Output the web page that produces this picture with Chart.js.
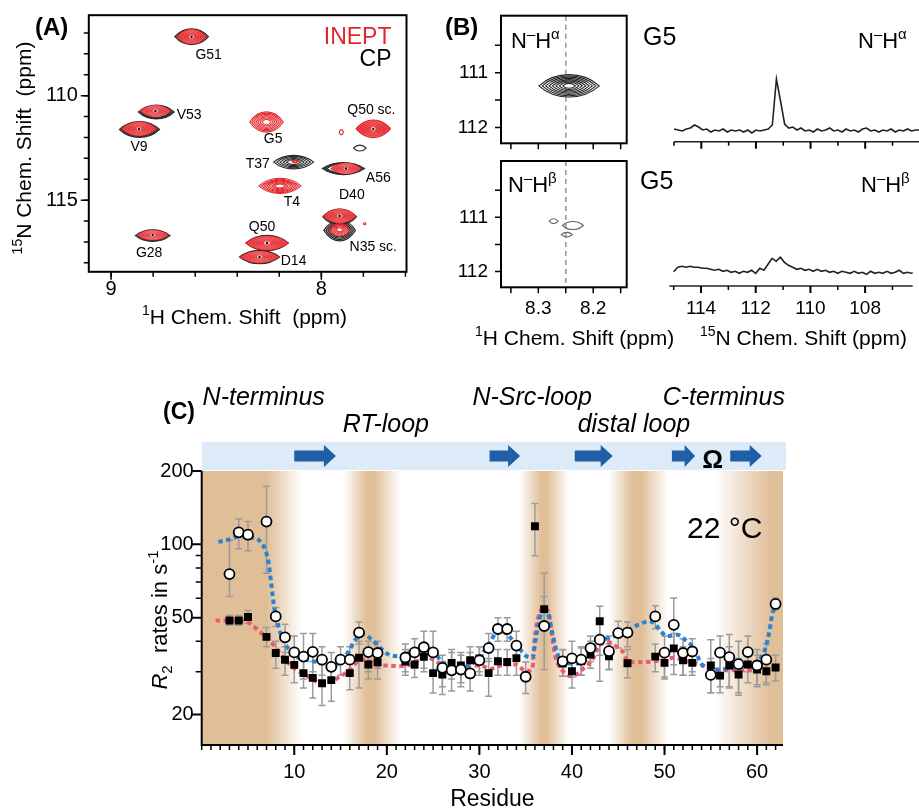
<!DOCTYPE html>
<html>
<head>
<meta charset="utf-8">
<title>SH3 R2 relaxation figure</title>
<script src="https://cdn.jsdelivr.net/npm/chart.js@4.4.1/dist/chart.umd.min.js"></script>
<style>
  html, body { margin: 0; padding: 0; background: #fff; }
  #fig { position: relative; width: 919px; height: 810px; overflow: hidden; background: #fff; }
  #fig canvas { position: absolute; left: 0; top: 0; }
</style>
</head>
<body>
<div id="fig">
  <canvas id="chartC" width="919" height="810"></canvas>
  <canvas id="chartA" width="919" height="810"></canvas>
  <canvas id="chartB1" width="919" height="810"></canvas>
  <canvas id="chartB2" width="919" height="810"></canvas>
  <canvas id="chartB3" width="919" height="810"></canvas>
  <canvas id="chartB4" width="919" height="810"></canvas>
</div>
<script>
// ---------- panel A : 1H-15N spectrum (peak centres in ppm) ----------
const ineptH = [8.617, 8.789, 8.867, 8.261, 7.753, 8.125, 7.883, 8.197, 7.913, 7.913, 8.802, 8.258, 8.294, 7.905, 7.794];
const ineptN = [107.18, 110.73, 111.59, 111.26, 111.59, 113.15, 113.49, 114.32, 115.76, 116.42, 116.67, 117.05, 117.72, 111.75, 116.13];
const ineptWidthH = [0.145, 0.15, 0.17, 0.16, 0.17, 0.03, 0.15, 0.2, 0.16, 0.1, 0.155, 0.21, 0.19, 0.02, 0.012];
const ineptWidthN = [0.73, 0.57, 0.7, 0.97, 0.89, 0.15, 0.55, 0.73, 0.7, 0.6, 0.5, 0.7, 0.6, 0.25, 0.1];
const ineptLevels = [12, 12, 12, 7, 12, 2, 12, 7, 12, 5, 12, 12, 12, 1, 1];

const cpH = [8.617, 8.785, 8.865, 7.753, 8.132, 7.895, 7.913, 7.913, 8.802, 8.258, 8.294, 7.817];
const cpN = [107.18, 110.78, 111.62, 111.59, 113.18, 113.49, 115.8, 116.45, 116.7, 117.05, 117.72, 112.51];
const cpWidthH = [0.16, 0.17, 0.19, 0.14, 0.19, 0.2, 0.16, 0.15, 0.165, 0.2, 0.19, 0.06];
const cpWidthN = [0.76, 0.66, 0.76, 0.75, 0.65, 0.58, 0.75, 1.0, 0.56, 0.72, 0.64, 0.28];
const cpLevels = [3, 3, 3, 4, 5, 3, 3, 4, 3, 3, 3, 1];
const cpSpread = [0.3, 0.3, 0.3, 0.6, 0.8, 0.3, 0.3, 0.5, 0.3, 0.3, 0.3, 0.3];

const peakLabels = ['G51', 'V53', 'V9', 'G5', 'Q50 sc.', 'T37', 'A56', 'T4', 'D40', 'N35 sc.', 'G28', 'Q50', 'D14'];
const peakLabelH = [8.536, 8.629, 8.867, 8.229, 7.762, 8.302, 7.729, 8.14, 7.855, 7.753, 8.819, 8.282, 8.132];
const peakLabelN = [108.06, 110.91, 112.48, 112.08, 110.69, 113.26, 113.94, 115.12, 114.76, 117.23, 117.56, 116.29, 117.91];

const aHTicks = [9, 8];
const aHMinor = [9, 8.8, 8.6, 8.4, 8.2, 8, 7.8, 7.6];
const aNTicks = [110, 115];
const aNMinor = [107, 108, 109, 110, 111, 112, 113, 114, 115, 116, 117, 118];

// ---------- panel B : G5 strips and 15N traces ----------
const alphaH = [8.244], alphaN = [111.24], alphaWidthH = [0.11], alphaWidthN = [0.41], alphaLevels = [8];
const betaH = [8.272, 8.237, 8.248], betaN = [111.07, 111.15, 111.32];
const betaWidthH = [0.016, 0.038, 0.02], betaWidthN = [0.09, 0.15, 0.085], betaLevels = [1, 1, 1];
const bHTicks = [8.3, 8.2];
const bHMinor = [8.35, 8.3, 8.25, 8.2, 8.15];
const bNTicks = [111, 112];
const bNMinor = [110.5, 111, 111.5, 112];

const specPpm = [115.0, 114.85, 114.7, 114.55, 114.4, 114.25, 114.1, 113.95, 113.8, 113.65, 113.5, 113.35, 113.2, 113.05, 112.9, 112.75, 112.6, 112.45, 112.3, 112.15, 112.0, 111.85, 111.7, 111.55, 111.4, 111.25, 111.1, 110.95, 110.8, 110.65, 110.5, 110.35, 110.2, 110.05, 109.9, 109.75, 109.6, 109.45, 109.3, 109.15, 109.0, 108.85, 108.7, 108.55, 108.4, 108.25, 108.1, 107.95, 107.8, 107.65, 107.5, 107.35, 107.2, 107.05, 106.9, 106.75, 106.6, 106.45, 106.3, 106.15, 106.0];
const alphaTrace = [2, 1, 0, 2, 3, 6, 4, 1, 2, -1, 1, 0, 2, -1, 1, 0, 1, -1, 1, -2, 1, 0, 1, 2, 6, 52, 30, 7, 3, 4, 1, 3, 0, 1, -1, 2, 0, 1, 3, 0, 1, -1, 2, 0, 1, -1, 2, 3, 0, 1, -1, 1, 0, 2, -1, 1, 0, 2, 0, 1, 1];
const betaTrace = [1.5, 6, 7, 6, 7, 6, 6, 5, 5, 4, 3, 4, 2, 3, 1, 2, 0, 2, 1, 3, 0, 5, 3, 9, 15, 12, 16, 11, 8, 6, 4, 5, 3, 4, 2, 4, 2, 3, 1, 2, 0, 2, 1, 0, 2, 0, 1, -1, 2, 0, 1, 0, 2, 0, 1, 3, 0, 1, 0, 1, 0];
const specTicks = [114, 112, 110, 108];
const specMinor = [115, 113, 111, 109, 107, 106];

// ---------- panel C : R2 rates per residue ----------
const circleRes = [3, 4, 5, 7, 8, 9, 10, 11, 12, 13, 14, 15, 16, 17, 18, 19, 22, 23, 24, 25, 26, 27, 28, 29, 30, 31, 32, 33, 34, 35, 37, 39, 40, 41, 42, 43, 44, 45, 46, 49, 50, 51, 52, 53, 55, 56, 57, 58, 59, 60, 61, 62];
const circleR2 = [75.5, 112, 109.5, 124, 50.6, 41.5, 36, 34.6, 36.2, 33.6, 31.4, 33.6, 33.6, 43.4, 36.1, 35.8, 34.3, 36, 37.8, 36, 31.1, 30.4, 30.6, 29.5, 33.4, 37.5, 44.9, 44.9, 38.4, 28.6, 46.2, 33.1, 34, 33.6, 37.5, 40.6, 36.4, 43.2, 43.4, 50.6, 35.9, 46.7, 35.8, 36.3, 29.1, 35.9, 34.4, 32.2, 36.1, 31.8, 33.6, 56.9];
const circleLo = [61, 96, 94, 76, 46, 36, 31, 28, 30, 29, 27, 29, 29, 39, 30, 31, 30, 31, 31, 30, 26, 25, 26, 25, 29, 33, 40, 40, 33, 24.4, 30.6, 28.7, 28.5, 29, 33, 35, 30.6, 37.5, 38, 45, 28.5, 29.2, 29, 30, 24.6, 26, 26, 24, 30, 26, 27, 53.9];
const circleHi = [104, 127, 124, 173, 55, 47, 42, 43, 43, 38, 36, 38, 38, 48, 40, 40, 39, 41, 44, 44, 35, 36, 35, 36, 38, 43, 50, 50, 44, 32.9, 76, 37, 40, 38, 42, 47, 42, 48.3, 48, 56, 42, 60.2, 41, 41, 34, 42, 42.6, 40, 42, 37, 39, 60.2];

const squareRes = [3, 4, 5, 7, 8, 9, 10, 11, 12, 13, 14, 16, 17, 18, 19, 22, 23, 24, 25, 26, 27, 28, 29, 30, 31, 32, 33, 34, 36, 37, 39, 40, 41, 42, 43, 44, 46, 49, 50, 51, 52, 53, 55, 56, 57, 58, 59, 60, 61, 62];
const squareR2 = [48.7, 48.7, 50.3, 41.7, 35.8, 33.6, 32, 29.6, 28.3, 26.9, 27.7, 29.6, 34.2, 32.1, 32.8, 33, 32.1, 34.5, 29.6, 29.2, 32.6, 31.8, 33.4, 34, 29.6, 33.1, 32.9, 34.1, 118.6, 54.2, 32.4, 30.1, 33.1, 35.3, 48.3, 34.7, 32.5, 34.6, 32.6, 37.4, 33.4, 32.6, 31.8, 28.9, 31.8, 29.2, 32.1, 30.6, 30.1, 31.2];
const squareLo = [46.5, 46.5, 47.5, 38, 31, 29, 27, 25.7, 23.4, 21.8, 22.7, 25.3, 25.7, 28, 28, 29, 28.4, 30, 24.5, 24.2, 28, 27, 29, 30, 23.8, 29, 29, 29, 89.8, 45, 28.7, 25.7, 29, 31, 27.4, 30.6, 28.3, 30, 28, 32, 29, 29, 24.6, 24.6, 25.7, 24.6, 27, 26.5, 26.5, 27.5];
const squareHi = [51, 51, 53.5, 45.5, 40, 38, 37, 35, 33, 32, 32, 34, 40, 37, 37, 37, 36, 39, 35, 33, 37, 36, 38, 38, 34, 37, 37, 39, 147, 61, 36.9, 35, 37.5, 40, 55.7, 39, 37, 39, 37, 43, 38, 37, 40.6, 36, 38, 34, 36, 35, 35, 35];

const blueTrendRes = [1.8, 2.9, 4.1, 5.2, 6.3, 7.2, 7.5, 7.8, 8.2, 8.6, 9.2, 10.1, 11.2, 12, 13, 14, 15, 15.9, 16.6, 17.5, 18.4, 19.3, 20.2, 21.3, 22, 23, 24, 25.1, 26.1, 27.2, 28.3, 29.3, 30.1, 31.2, 32.1, 32.8, 33.7, 34.4, 35.1, 35.7, 36.2, 36.8, 37.3, 37.8, 38.4, 38.9, 40, 41.1, 42.2, 42.9, 44, 45, 46.1, 47.2, 48.3, 49, 49.5, 50.3, 51.4, 52.4, 53.3, 53.9, 55, 56, 57.1, 58, 59.1, 59.8, 60.5, 60.9, 61.3, 61.6, 62];
const blueTrendR2 = [102.3, 104.5, 107.8, 107, 103, 85, 69.5, 56, 47.6, 42, 38, 34.8, 33.6, 33.1, 32.6, 31.4, 33.1, 36.4, 40.6, 42.6, 40.6, 37.5, 35.3, 34.7, 35.3, 37, 37.3, 35.8, 32.6, 31.4, 31.4, 32.6, 34.7, 40, 44.6, 43.3, 40, 37, 34.7, 34.2, 43.3, 53, 53, 44.6, 35.8, 32.9, 32.4, 33.1, 37.5, 40, 41.3, 42.6, 44.6, 46.8, 48.3, 47, 44.4, 42, 42.5, 40, 37, 32.6, 30.8, 30.6, 31.1, 31.4, 31.6, 32.1, 34.7, 37.5, 43.3, 50.6, 56.9];
const redTrendRes = [1.5, 3, 4.5, 5.2, 6.1, 7, 7.9, 9, 10.2, 11.2, 12, 13, 14, 15.1, 16, 16.9, 17.7, 18.7, 20, 21.3, 22.5, 23.6, 24.5, 25.6, 26.7, 27.7, 28.8, 30.1, 31.2, 32, 33.1, 34, 35, 35.7, 36, 36.4, 36.9, 37.5, 37.8, 38.2, 38.9, 40, 41.1, 42.2, 43, 44, 45, 45.6, 46, 47.4, 49, 51, 52.4, 53.9, 55.3, 56.8, 58.9, 60.5, 62];
const redTrendR2 = [48.7, 48.7, 48.7, 47.3, 44.4, 41.3, 38.1, 33.6, 30.6, 29.2, 27.8, 26.9, 27.4, 28.9, 30.6, 33.1, 33.6, 32.1, 31.8, 31.6, 32.1, 33.6, 34.2, 32.6, 31.1, 30.6, 31.6, 31.8, 30.8, 31.6, 32.1, 32.1, 30.1, 30.6, 41.9, 50.6, 54.8, 52.3, 43.3, 34.7, 30.6, 28.7, 30.6, 33.6, 38.5, 39.6, 37.5, 35.8, 33.1, 32.8, 33.1, 34.2, 33.1, 32.1, 30.6, 30.4, 30.4, 30.6, 31];

const resTicks = [10, 20, 30, 40, 50, 60];
const resMinor = Array.from({ length: 63 }, (_, i) => i);
const r2Ticks = [20, 50, 100, 200];
const r2Minor = [30, 40, 60, 70, 80, 90];

// secondary structure and regions (residue numbers)
const strandStart = [10.0, 31.1, 40.3, 50.8, 57.1];
const strandEnd = [14.5, 34.4, 44.4, 53.3, 60.5];
const loopLabel = ['N-terminus', 'RT-loop', 'N-Src-loop', 'distal loop', 'C-terminus'];
const loopCentre = [6.7, 19.9, 35.7, 46.7, 56.4];
const loopRow = [0, 1, 0, 1, 0];
const shadeBands = [[-1, 0, 7.0, 10.8], [15.3, 17.8, 18.6, 21.5], [34.3, 36.7, 37.3, 39.7], [44.0, 46.5, 47.5, 50.4], [55.4, 61.5, 63.5, 64]];

// ---------- helpers ----------
const FONT = '"Liberation Sans", Arial, Helvetica, sans-serif';
const W = 919, H = 810;
Chart.defaults.font.family = FONT;
Chart.defaults.color = '#000';
Chart.defaults.animation = false;
Chart.defaults.responsive = false;
Chart.defaults.events = [];
Chart.defaults.plugins.legend.display = false;
Chart.defaults.plugins.tooltip.enabled = false;

function zip(xs, ys) { return xs.map((x, i) => ({ x: x, y: ys[i] })); }

function placed(box, yW, xH) {
  return { padding: { left: box[0] - yW, top: box[1], right: W - box[2], bottom: H - box[3] - xH } };
}
function noPad(s) { s.paddingTop = 0; s.paddingBottom = 0; s.paddingLeft = 0; s.paddingRight = 0; }
function fitY(w) { return s => { s.width = w; noPad(s); }; }
function fitX(h) { return s => { s.height = h; noPad(s); }; }
function setTicks(values) { return s => { s.ticks = values.map(v => ({ value: v })); }; }

function tickMarks(ctx, scale, values, len, width) {
  const a = scale.chart.chartArea;
  ctx.save();
  ctx.strokeStyle = '#000';
  ctx.lineWidth = width || 1.5;
  ctx.beginPath();
  values.forEach(v => {
    const p = scale.getPixelForValue(v);
    if (scale.isHorizontal()) { ctx.moveTo(p, a.bottom); ctx.lineTo(p, a.bottom + len); }
    else { ctx.moveTo(a.left, p); ctx.lineTo(a.left - len, p); }
  });
  ctx.stroke();
  ctx.restore();
}

function frame(ctx, a, w) {
  ctx.save();
  ctx.strokeStyle = '#000';
  ctx.lineWidth = w;
  ctx.strokeRect(a.left, a.top, a.right - a.left, a.bottom - a.top);
  ctx.restore();
}

// text with super/subscripts; parts are strings or {t, sup, sub, italic, color}
function rich(ctx, parts, x, y, size, opts) {
  opts = opts || {};
  parts = parts.map(p => typeof p === 'string' ? { t: p } : p);
  ctx.save();
  ctx.translate(x, y);
  if (opts.rot) ctx.rotate(opts.rot);
  ctx.textBaseline = 'alphabetic';
  ctx.textAlign = 'left';
  const fontFor = p => (p.italic || opts.italic ? 'italic ' : '') + (p.bold || opts.bold ? 'bold ' : '') +
    ((p.sup || p.sub) ? Math.round(size * 0.66) : size) + 'px ' + FONT;
  let total = 0;
  parts.forEach(p => { ctx.font = fontFor(p); total += ctx.measureText(p.t).width; });
  let cx = opts.align === 'center' ? -total / 2 : opts.align === 'right' ? -total : 0;
  parts.forEach(p => {
    ctx.font = fontFor(p);
    ctx.fillStyle = p.color || opts.color || '#000';
    const dy = p.sup ? -size * 0.42 : p.sub ? size * 0.22 : 0;
    ctx.fillText(p.t, cx, dy);
    cx += ctx.measureText(p.t).width;
  });
  ctx.restore();
}

// lens shaped contour, w/h are half sizes in px
function lens(ctx, cx, cy, w, h) {
  ctx.beginPath();
  ctx.moveTo(cx - w, cy);
  ctx.bezierCurveTo(cx - w * 0.45, cy - h * 1.33, cx + w * 0.45, cy - h * 1.33, cx + w, cy);
  ctx.bezierCurveTo(cx + w * 0.45, cy + h * 1.33, cx - w * 0.45, cy + h * 1.33, cx - w, cy);
  ctx.closePath();
}

// contour rings around each point of a dataset
function contours(chart, dsIndex, wH, wN, levels, style, spread) {
  const meta = chart.getDatasetMeta(dsIndex);
  const data = chart.data.datasets[dsIndex].data;
  const xs = chart.scales.x, ys = chart.scales.y, a = chart.chartArea;
  const ctx = chart.ctx;
  ctx.save();
  ctx.beginPath();
  ctx.rect(a.left, a.top, a.right - a.left, a.bottom - a.top);
  ctx.clip();
  meta.data.forEach((pt, i) => {
    const d = data[i];
    const hw = Math.abs(xs.getPixelForValue(d.x + wH[i] / 2) - pt.x);
    const hh = Math.abs(ys.getPixelForValue(d.y + wN[i] / 2) - pt.y);
    const n = levels[i];
    if (style.fill && n >= 10) {
      lens(ctx, pt.x, pt.y, hw, hh);
      ctx.fillStyle = style.fill;
      ctx.fill();
      ctx.strokeStyle = style.inner;
      ctx.lineWidth = 0.7;
      for (let k = 1; k < 6; k++) {
        const s = 1 - k * 0.15;
        lens(ctx, pt.x, pt.y, hw * s, hh * s);
        ctx.stroke();
      }
      lens(ctx, pt.x, pt.y, Math.max(hw * 0.14, 2.5), Math.max(hh * 0.2, 1.4));
      ctx.fillStyle = '#fff';
      ctx.fill();
      ctx.beginPath();
      ctx.arc(pt.x, pt.y, 1.2, 0, Math.PI * 2);
      ctx.fillStyle = '#000';
      ctx.fill();
    } else {
      ctx.strokeStyle = style.line;
      ctx.lineWidth = style.width;
      const sp = spread ? spread[i] : (style.step || 0.85);
      for (let k = 0; k < n; k++) {
        const s = 1 - k / n * sp;
        lens(ctx, pt.x, pt.y, hw * s, hh * s);
        ctx.stroke();
      }
    }
  });
  ctx.restore();
}

// ================= panel A =================
const boxA = [88.8, 15.2, 406.5, 271.8];
new Chart(document.getElementById('chartA'), {
  type: 'scatter',
  data: {
    datasets: [
      { label: 'CP', data: zip(cpH, cpN), pointRadius: 0 },
      { label: 'INEPT', data: zip(ineptH, ineptN), pointRadius: 0 }
    ]
  },
  options: {
    layout: placed(boxA, 60, 40),
    scales: {
      x: {
        type: 'linear', reverse: true, min: 7.595, max: 9.106,
        grid: { display: false }, border: { display: false },
        ticks: { padding: -2, font: { size: 20 }, maxRotation: 0, autoSkip: false, callback: v => String(v) },
        afterBuildTicks: setTicks(aHTicks), afterFit: fitX(40)
      },
      y: {
        type: 'linear', reverse: true, min: 106.15, max: 118.43,
        grid: { display: false }, border: { display: false },
        ticks: { padding: 3, font: { size: 20 }, autoSkip: false, callback: v => String(v) },
        afterBuildTicks: setTicks(aNTicks), afterFit: fitY(60)
      }
    }
  },
  plugins: [{
    id: 'spectrumA',
    afterDatasetsDraw(chart) {
      contours(chart, 0, cpWidthH, cpWidthN, cpLevels, { line: '#2b2b2b', width: 1.2 }, cpSpread);
      contours(chart, 1, ineptWidthH, ineptWidthN, ineptLevels, { fill: '#e3262b', inner: 'rgba(255,190,190,0.55)', line: '#e3262b', width: 1.1 });
    },
    afterDraw(chart) {
      const ctx = chart.ctx, a = chart.chartArea, xs = chart.scales.x, ys = chart.scales.y;
      frame(ctx, a, 2);
      tickMarks(ctx, xs, aHMinor, 5, 1.5);
      tickMarks(ctx, xs, aHTicks, 8, 1.5);
      tickMarks(ctx, ys, aNMinor, 5, 1.5);
      tickMarks(ctx, ys, aNTicks, 8, 1.5);
      ctx.save();
      ctx.font = '14px ' + FONT;
      ctx.fillStyle = '#000';
      ctx.textAlign = 'center';
      ctx.textBaseline = 'middle';
      peakLabels.forEach((t, i) => {
        ctx.fillText(t, xs.getPixelForValue(peakLabelH[i]), ys.getPixelForValue(peakLabelN[i]));
      });
      ctx.restore();
      rich(ctx, [{ t: 'INEPT', color: '#e3262b' }], a.right - 15, a.top + 29, 23, { align: 'right' });
      rich(ctx, ['CP'], a.right - 15, a.top + 51, 23, { align: 'right' });
      rich(ctx, [{ t: '(A)', bold: true }], 35, 35, 24);
      rich(ctx, [{ t: '1', sup: true }, 'H Chem. Shift  (ppm)'], 142, 324, 21);
      rich(ctx, [{ t: '15', sup: true }, 'N Chem. Shift  (ppm)'], 31, 148, 21, { rot: -Math.PI / 2, align: 'center' });
    }
  }]
});

// ================= panel B : strips =================
function stripChart(id, box, h, n, wH, wN, lv, style, showX, label) {
  return new Chart(document.getElementById(id), {
    type: 'scatter',
    data: { datasets: [{ label: label, data: zip(h, n), pointRadius: 0 }] },
    options: {
      layout: placed(box, 60, 40),
      scales: {
        x: {
          type: 'linear', reverse: true, min: 8.139, max: 8.368,
          grid: { display: false }, border: { display: false },
          ticks: { display: showX, padding: 2, font: { size: 19 }, maxRotation: 0, autoSkip: false, callback: v => String(v) },
          afterBuildTicks: setTicks(bHTicks), afterFit: fitX(40)
        },
        y: {
          type: 'linear', reverse: true, min: 109.96, max: 112.29,
          grid: { display: false }, border: { display: false },
          ticks: { padding: 5, font: { size: 19 }, autoSkip: false, callback: v => String(v) },
          afterBuildTicks: setTicks(bNTicks), afterFit: fitY(60)
        }
      }
    },
    plugins: [{
      id: 'strip' + id,
      beforeDatasetsDraw(chart) {
        const ctx = chart.ctx, a = chart.chartArea, x = chart.scales.x.getPixelForValue(8.25);
        ctx.save();
        ctx.strokeStyle = '#999';
        ctx.lineWidth = 1.6;
        ctx.setLineDash([5, 4]);
        ctx.beginPath();
        ctx.moveTo(x, a.top);
        ctx.lineTo(x, a.bottom);
        ctx.stroke();
        ctx.restore();
      },
      afterDatasetsDraw(chart) { contours(chart, 0, wH, wN, lv, style); },
      afterDraw(chart) {
        const ctx = chart.ctx, a = chart.chartArea;
        frame(ctx, a, 2);
        tickMarks(ctx, chart.scales.x, bHMinor, 6, 1.5);
        tickMarks(ctx, chart.scales.y, bNMinor, 6, 1.5);
      }
    }]
  });
}
stripChart('chartB1', [501, 15.7, 626.7, 143.3], alphaH, alphaN, alphaWidthH, alphaWidthN, alphaLevels,
  { line: '#262626', width: 1.1, step: 0.9 }, false, 'N-Halpha');
stripChart('chartB2', [501, 161, 626.7, 287.3], betaH, betaN, betaWidthH, betaWidthN, betaLevels,
  { line: '#666', width: 1.1 }, true, 'N-Hbeta');

// ================= panel B : 15N traces =================
function traceChart(id, box, xmin, xmax, ymin, ymax, trace, showX) {
  const xH = showX ? 40 : 0;
  return new Chart(document.getElementById(id), {
    type: 'line',
    data: {
      datasets: [{
        label: '15N trace', data: zip(specPpm, trace), borderColor: '#222', borderWidth: 1.6,
        pointRadius: 0, tension: 0, fill: false
      }]
    },
    options: {
      layout: placed(box, 0, xH),
      scales: {
        x: {
          type: 'linear', reverse: true, min: xmin, max: xmax, display: showX,
          grid: { display: false }, border: { display: false },
          ticks: { padding: 3, font: { size: 19 }, maxRotation: 0, autoSkip: false, callback: v => String(v) },
          afterBuildTicks: setTicks(specTicks), afterFit: fitX(xH)
        },
        y: { type: 'linear', display: false, min: ymin, max: ymax }
      }
    },
    plugins: [{
      id: 'axis' + id,
      afterDraw(chart) {
        const ctx = chart.ctx, a = chart.chartArea;
        ctx.save();
        ctx.strokeStyle = '#222';
        ctx.lineWidth = 1.5;
        ctx.beginPath();
        ctx.moveTo(a.left, a.bottom);
        ctx.lineTo(a.right, a.bottom);
        ctx.stroke();
        ctx.restore();
        tickMarks(ctx, chart.scales.x, specMinor, 4, 1.5);
        tickMarks(ctx, chart.scales.x, specTicks, 7, 2);
      }
    }]
  });
}
traceChart('chartB3', [674, 70, 919, 141.7], 106.03, 115.0, -10.7, 61, alphaTrace, false);
traceChart('chartB4', [669.3, 215, 912.7, 286], 106.26, 115.16, -12.7, 58.3, betaTrace, true);

// labels of panel B live on the last strip canvas
Chart.getChart('chartB4').config.plugins.push({
  id: 'labelsB',
  afterDraw(chart) {
    const ctx = chart.ctx;
    rich(ctx, [{ t: '(B)', bold: true }], 445, 35, 24);
    rich(ctx, ['N', { t: '\u2013', sup: true }, 'H', { t: '\u03b1', sup: true }], 511, 48, 22);
    rich(ctx, ['N', { t: '\u2013', sup: true }, 'H', { t: '\u03b1', sup: true }], 858, 48, 22);
    rich(ctx, ['N', { t: '\u2013', sup: true }, 'H', { t: '\u03b2', sup: true }], 508, 192, 22);
    rich(ctx, ['N', { t: '\u2013', sup: true }, 'H', { t: '\u03b2', sup: true }], 861, 192, 22);
    rich(ctx, ['G5'], 643, 45, 25);
    rich(ctx, ['G5'], 640, 189, 25);
    rich(ctx, [{ t: '1', sup: true }, 'H Chem. Shift (ppm)'], 475, 345, 21);
    rich(ctx, [{ t: '15', sup: true }, 'N Chem. Shift (ppm)'], 700, 345, 21);
  }
});
Chart.getChart('chartB4').update();

// ================= panel C =================
const boxC = [201.7, 471, 783, 745];
const TAN = 'rgba(224,190,152,1)', TAN0 = 'rgba(224,190,152,0)';

function errorBars(ctx, xs, ys, res, lo, hi) {
  ctx.beginPath();
  res.forEach((r, i) => {
    const x = xs.getPixelForValue(r), y0 = ys.getPixelForValue(lo[i]), y1 = ys.getPixelForValue(hi[i]);
    ctx.moveTo(x, y0); ctx.lineTo(x, y1);
    ctx.moveTo(x - 3.5, y0); ctx.lineTo(x + 3.5, y0);
    ctx.moveTo(x - 3.5, y1); ctx.lineTo(x + 3.5, y1);
  });
  ctx.stroke();
}

new Chart(document.getElementById('chartC'), {
  type: 'scatter',
  data: {
    datasets: [
      { label: 'trend squares', data: zip(redTrendRes, redTrendR2), showLine: true, borderColor: '#ec5b70', borderWidth: 4,
        borderDash: [4.5, 3.5], pointRadius: 0, cubicInterpolationMode: 'monotone', order: 4 },
      { label: 'trend circles', data: zip(blueTrendRes, blueTrendR2), showLine: true, borderColor: '#2b82cf', borderWidth: 4,
        borderDash: [4.5, 3.5], pointRadius: 0, cubicInterpolationMode: 'monotone', order: 3 },
      { label: 'R2 squares', data: zip(squareRes, squareR2), pointStyle: 'rect', pointRadius: 5.6,
        backgroundColor: '#000', borderColor: '#000', borderWidth: 0, order: 2 },
      { label: 'R2 circles', data: zip(circleRes, circleR2), pointStyle: 'circle', pointRadius: 5,
        backgroundColor: '#fff', borderColor: '#000', borderWidth: 1.8, order: 1 }
    ]
  },
  options: {
    layout: placed(boxC, 60, 50),
    scales: {
      x: {
        type: 'linear', min: 0, max: 62.8,
        grid: { display: false }, border: { display: false },
        ticks: { padding: 7, font: { size: 20 }, maxRotation: 0, autoSkip: false, callback: v => String(v) },
        afterBuildTicks: setTicks(resTicks), afterFit: fitX(50)
      },
      y: {
        type: 'logarithmic', min: 15, max: 200,
        grid: { display: false }, border: { display: false },
        ticks: { padding: 0, font: { size: 20 }, autoSkip: false, callback: v => String(v) },
        afterBuildTicks: setTicks(r2Ticks), afterFit: fitY(60)
      }
    }
  },
  plugins: [{
    id: 'panelC',
    beforeDraw(chart) {
      const ctx = chart.ctx, a = chart.chartArea, xs = chart.scales.x;
      ctx.save();
      ctx.beginPath();
      ctx.rect(a.left, a.top, a.right - a.left, a.bottom - a.top);
      ctx.clip();
      shadeBands.forEach(b => {
        const x0 = xs.getPixelForValue(b[0]), x3 = xs.getPixelForValue(b[3]);
        const span = b[3] - b[0];
        const g = ctx.createLinearGradient(x0, 0, x3, 0);
        g.addColorStop(0, TAN0);
        g.addColorStop(Math.max(0.001, (b[1] - b[0]) / span), TAN);
        g.addColorStop((b[2] - b[0]) / span, TAN);
        g.addColorStop(1, TAN0);
        ctx.fillStyle = g;
        ctx.fillRect(x0, a.top, x3 - x0, a.bottom - a.top);
      });
      ctx.restore();

      // secondary structure strip
      ctx.save();
      ctx.fillStyle = '#dcebf7';
      ctx.fillRect(a.left, a.top - 29, a.right - a.left + 3, 28);
      ctx.fillStyle = '#1f5fa8';
      const yc = a.top - 15;
      strandStart.forEach((s, i) => {
        const x0 = xs.getPixelForValue(s), x1 = xs.getPixelForValue(strandEnd[i]);
        const head = Math.min(12, (x1 - x0) * 0.45);
        ctx.beginPath();
        ctx.moveTo(x0, yc - 5.5);
        ctx.lineTo(x1 - head, yc - 5.5);
        ctx.lineTo(x1 - head, yc - 11);
        ctx.lineTo(x1, yc);
        ctx.lineTo(x1 - head, yc + 11);
        ctx.lineTo(x1 - head, yc + 5.5);
        ctx.lineTo(x0, yc + 5.5);
        ctx.closePath();
        ctx.fill();
      });
      ctx.fillStyle = '#000';
      ctx.font = 'bold 26px ' + FONT;
      ctx.textAlign = 'center';
      ctx.fillText('\u03a9', xs.getPixelForValue(55.2), yc + 12);
      ctx.restore();

      loopLabel.forEach((t, i) => {
        rich(ctx, [{ t: t, italic: true }], xs.getPixelForValue(loopCentre[i]), loopRow[i] ? 432 : 405, 25, { align: 'center' });
      });
    },
    beforeDatasetsDraw(chart) {
      const ctx = chart.ctx, xs = chart.scales.x, ys = chart.scales.y;
      ctx.save();
      ctx.strokeStyle = '#9b9b9b';
      ctx.lineWidth = 1.5;
      errorBars(ctx, xs, ys, circleRes, circleLo, circleHi);
      errorBars(ctx, xs, ys, squareRes, squareLo, squareHi);
      ctx.restore();
    },
    afterDraw(chart) {
      const ctx = chart.ctx, a = chart.chartArea, xs = chart.scales.x, ys = chart.scales.y;
      ctx.save();
      ctx.strokeStyle = '#000';
      ctx.lineWidth = 2;
      ctx.beginPath();
      ctx.moveTo(a.left, a.top);
      ctx.lineTo(a.left, a.bottom);
      ctx.lineTo(a.right, a.bottom);
      ctx.stroke();
      ctx.restore();
      tickMarks(ctx, xs, resMinor, 5, 1.5);
      tickMarks(ctx, xs, resTicks, 10, 2);
      tickMarks(ctx, ys, r2Minor, 6, 1.5);
      tickMarks(ctx, ys, r2Ticks, 10, 2);
      rich(ctx, [{ t: '(C)', bold: true }], 163, 419, 23);
      rich(ctx, ['22 \u00b0C'], 687, 538, 30);
      rich(ctx, ['Residue'], (a.left + a.right) / 2, 806, 23, { align: 'center' });
      rich(ctx, [{ t: 'R', italic: true }, { t: '2', sub: true }, '  rates in s', { t: '-1', sup: true }],
        167, 620, 22, { rot: -Math.PI / 2, align: 'center' });
    }
  }]
});
</script>
</body>
</html>
